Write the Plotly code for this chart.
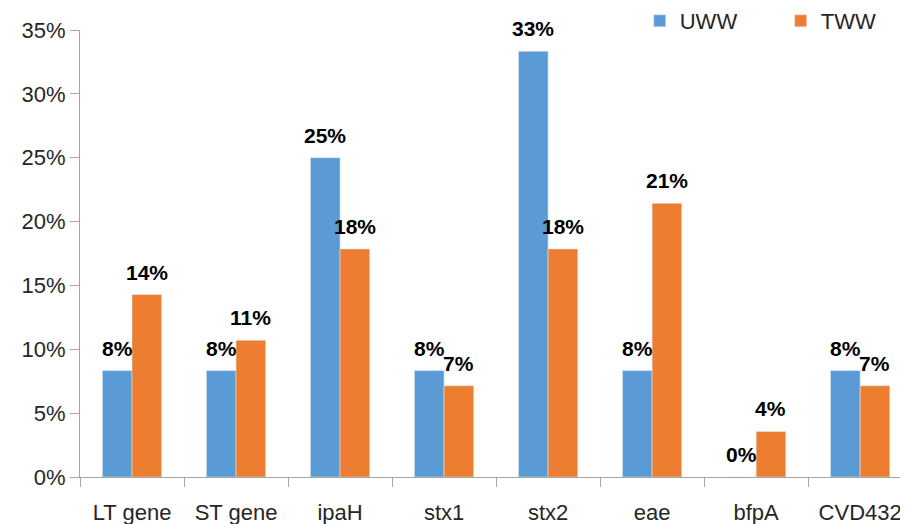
import plotly.graph_objects as go

categories = ["LT gene", "ST gene", "ipaH", "stx1", "stx2", "eae", "bfpA", "CVD432"]
uww = [8.33, 8.33, 25.0, 8.33, 33.33, 8.33, 0.0, 8.33]
tww = [14.29, 10.71, 17.86, 7.14, 17.86, 21.43, 3.57, 7.14]
uww_labels = ["8%", "8%", "25%", "8%", "33%", "8%", "0%", "8%"]
tww_labels = ["14%", "11%", "18%", "7%", "18%", "21%", "4%", "7%"]
y_ticks = [0, 5, 10, 15, 20, 25, 30, 35]
y_tick_text = ["0%", "5%", "10%", "15%", "20%", "25%", "30%", "35%"]

FONT = "Liberation Sans"
BARGAP = 0.43
PLOT_W = 900 - 72
X_RANGE = [-0.5, 7.46]
cat_px = PLOT_W / (X_RANGE[1] - X_RANGE[0])
bar_px = cat_px * (1 - BARGAP) / 2

fig = go.Figure()
fig.add_trace(go.Bar(name="UWW", x=categories, y=uww, marker_color="#5B9BD5"))
fig.add_trace(go.Bar(name="TWW", x=categories, y=tww, marker_color="#ED7D31"))

for series, labels, shift in ((uww, uww_labels, -bar_px / 2), (tww, tww_labels, bar_px / 2)):
    for cat, val, lab in zip(categories, series, labels):
        fig.add_annotation(
            x=cat, y=val, text=lab, showarrow=False, xref="x", yref="y",
            xshift=shift, yshift=9, yanchor="bottom", xanchor="center",
            font=dict(family=FONT, size=21, color="#000000", weight="bold"),
        )

fig.update_layout(
    width=908, height=524,
    margin=dict(l=72, r=8, t=22, b=55, autoexpand=False),
    paper_bgcolor="white", plot_bgcolor="white",
    barmode="group", bargap=BARGAP, bargroupgap=0,
    font=dict(family=FONT, size=22, color="#262626"),
    showlegend=True,
    legend=dict(orientation="h", xref="paper", yref="paper",
                x=0.676, y=1.02, xanchor="left", yanchor="middle",
                font=dict(size=22, color="#262626"),
                entrywidth=96, entrywidthmode="pixels",
                bgcolor="rgba(0,0,0,0)"),
)
fig.update_xaxes(
    range=X_RANGE, showline=True, linecolor="#a6a6a6", linewidth=1,
    ticks="outside", tickson="boundaries", ticklen=9, tickcolor="#a6a6a6",
    ticklabelstandoff=16,
    showgrid=False, tickfont=dict(size=22, color="#262626"),
)
fig.update_yaxes(
    range=[0, 35], tickvals=y_ticks, ticktext=y_tick_text,
    showline=True, linecolor="#a6a6a6", linewidth=1,
    ticks="outside", ticklen=9, tickcolor="#a6a6a6",
    showgrid=False, zeroline=False, tickfont=dict(size=22, color="#262626"),
)
fig.write_html("out.html")
